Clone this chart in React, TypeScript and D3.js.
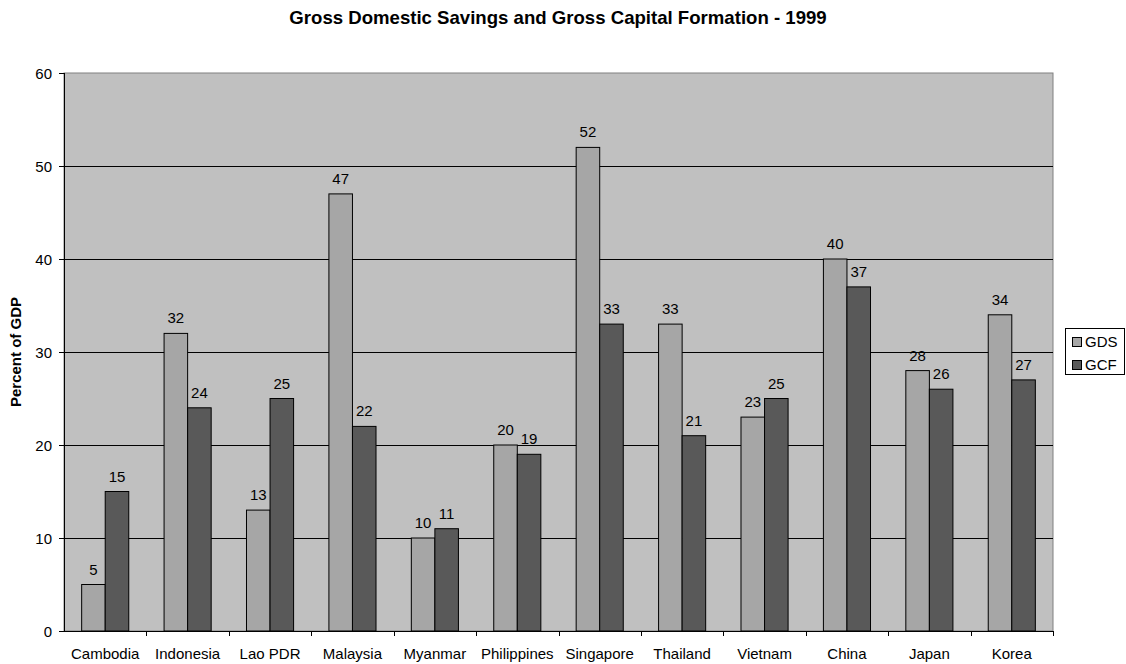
import React from "react";
import * as d3 from "d3";

const categories = ["Cambodia", "Indonesia", "Lao PDR", "Malaysia", "Myanmar", "Philippines", "Singapore", "Thailand", "Vietnam", "China", "Japan", "Korea"];
const gds = [5, 32, 13, 47, 10, 20, 52, 33, 23, 40, 28, 34];
const gcf = [15, 24, 25, 22, 11, 19, 33, 21, 25, 37, 26, 27];
const seriesNames = ["GDS", "GCF"];
const yTicks = [0, 10, 20, 30, 40, 50, 60];

const W = 1126, H = 664;
const left = 64, right = 1053, top = 73, bottom = 631;
const colors = ["#A6A6A6", "#595959"];
const font = "'Liberation Sans', Arial, sans-serif";

export default function App() {
  const x = d3.scaleBand<string>().domain(categories).range([left, right]).paddingInner(0).paddingOuter(0);
  const y = d3.scaleLinear().domain([0, 60]).range([bottom, top]);
  const bw = x.bandwidth() / 3.5;
  const series = [gds, gcf];
  return (
    <svg width={W} height={H} style={{ position: "absolute", left: 0, top: 0 }} fontFamily={font}>
      <rect x={0} y={0} width={W} height={H} fill="#fff" />
      <text x={558} y={24} textAnchor="middle" fontSize={18.6} fontWeight="bold">Gross Domestic Savings and Gross Capital Formation - 1999</text>
      <rect x={left} y={top} width={right - left} height={bottom - top} fill="#C0C0C0" stroke="#808080" strokeWidth={1} />
      {yTicks.filter(t => t > 0 && t < 60).map(t => (
        <line key={t} x1={left} x2={right} y1={Math.round(y(t)) + 0.5} y2={Math.round(y(t)) + 0.5} stroke="#000" />
      ))}
      {series.map((vals, si) => vals.map((v, i) => {
        const bx = (x(categories[i]) as number) + bw * 0.75 + si * bw;
        return (
          <g key={si + "-" + i}>
            <rect x={bx} y={y(v)} width={bw} height={bottom - y(v)} fill={colors[si]} stroke="#000" strokeWidth={1} />
            <text x={bx + bw / 2} y={y(v) - 10} textAnchor="middle" fontSize={15}>{v}</text>
          </g>
        );
      }))}
      <line x1={left + 0.5} x2={left + 0.5} y1={top} y2={bottom} stroke="#000" />
      <line x1={left} x2={right} y1={bottom + 0.5} y2={bottom + 0.5} stroke="#000" />
      {yTicks.map(t => (
        <g key={t}>
          <line x1={left - 5} x2={left} y1={Math.round(y(t)) + 0.5} y2={Math.round(y(t)) + 0.5} stroke="#000" />
          <text x={52} y={y(t) + 5.5} textAnchor="end" fontSize={15}>{t}</text>
        </g>
      ))}
      {categories.map((c, i) => (
        <g key={c}>
          <line x1={Math.round((x(c) as number) + x.bandwidth()) + 0.5} x2={Math.round((x(c) as number) + x.bandwidth()) + 0.5} y1={bottom} y2={bottom + 5} stroke="#000" />
          <text x={(x(c) as number) + x.bandwidth() / 2} y={659} textAnchor="middle" fontSize={15}>{c}</text>
        </g>
      ))}
      <text transform={`translate(21,${(top + bottom) / 2}) rotate(-90)`} textAnchor="middle" fontSize={15} fontWeight="bold">Percent of GDP</text>
      <rect x={1065.5} y={328.5} width={59} height={46} fill="#fff" stroke="#000" />
      {seriesNames.map((s, i) => (
        <g key={s}>
          <rect x={1072.5} y={337.5 + i * 23} width={9} height={9} fill={colors[i]} stroke="#000" />
          <text x={1085} y={346.5 + i * 23} fontSize={15}>{s}</text>
        </g>
      ))}
    </svg>
  );
}
